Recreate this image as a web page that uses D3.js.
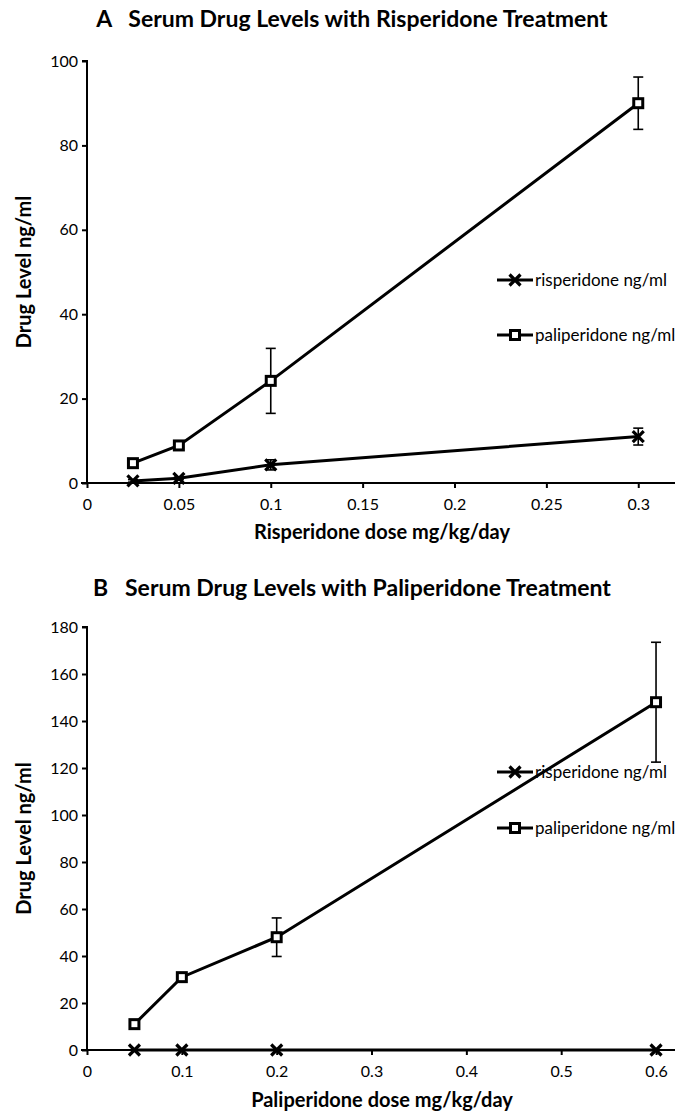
<!DOCTYPE html>
<html>
<head>
<meta charset="utf-8">
<script src="https://cdn.jsdelivr.net/npm/d3@7"></script>
<style>
  body { margin: 0; background: #fff; }
  svg { display: block; font-family: Lato, "Open Sans", sans-serif; }
</style>
</head>
<body>
<svg id="chart" width="691" height="1114"></svg>
<script>
// Panel A: risperidone treatment
const doseA = [0.025, 0.05, 0.1, 0.3];
const risA = [0.5, 1.1, 4.3, 11];
const risErrA = [0.3, 0.3, 1.2, 2];
const paliA = [4.7, 8.9, 24.2, 90];
const paliErrA = [0.4, 0.6, 7.7, 6.2];
const xTicksA = [0, 0.05, 0.1, 0.15, 0.2, 0.25, 0.3];
const yTicksA = [0, 20, 40, 60, 80, 100];

// Panel B: paliperidone treatment
const doseB = [0.05, 0.1, 0.2, 0.6];
const risB = [0, 0, 0, 0];
const risErrB = [0, 0, 0, 0];
const paliB = [11, 31, 48, 148];
const paliErrB = [1.2, 1.5, 8.2, 25.5];
const xTicksB = [0, 0.1, 0.2, 0.3, 0.4, 0.5, 0.6];
const yTicksB = [0, 20, 40, 60, 80, 100, 120, 140, 160, 180];

const seriesNames = ["risperidone ng/ml", "paliperidone ng/ml"];

const svg = d3.select("#chart");

function drawPanel(cfg) {
  const g = svg.append("g");
  const x = d3.scaleLinear().domain(cfg.xDomain).range([87, 675]);
  const y = d3.scaleLinear().domain(cfg.yDomain).range([cfg.bottom, cfg.top]);

  // title
  g.append("text")
    .attr("x", 352).attr("y", cfg.titleY)
    .attr("text-anchor", "middle")
    .style("font-size", "23px").style("font-weight", "bold")
    .attr("xml:space", "preserve")
    .text(cfg.title);

  // axes
  const yAxis = g.append("g")
    .attr("transform", `translate(${x(0)},0)`)
    .call(d3.axisLeft(y).tickValues(cfg.yTicks).tickSize(5).tickPadding(4).tickFormat(d3.format("d")));
  const xAxis = g.append("g")
    .attr("transform", `translate(0,${y(0)})`)
    .call(d3.axisBottom(x).tickValues(cfg.xTicks).tickSize(5).tickPadding(11).tickFormat(d => d === 0 ? "0" : String(d)));
  [yAxis, xAxis].forEach(a => {
    a.select(".domain").attr("stroke-width", 2);
    a.selectAll(".tick line").attr("stroke-width", 2);
    a.selectAll("text").style("font-size", "16px").style("font-family", "Lato, sans-serif").attr("fill", "#000");
  });
  // x-axis line starts a little left of the y-axis, like the original
  xAxis.select(".domain").attr("d", `M${x(0) - 6},0H${x.range()[1]}`);
  yAxis.select(".domain").attr("d", `M-5,${cfg.top}H0V${cfg.bottom}`);

  // axis titles
  g.append("text")
    .attr("x", 382).attr("y", cfg.xTitleY)
    .attr("text-anchor", "middle")
    .style("font-size", "20px").style("font-weight", "bold")
    .text(cfg.xTitle);
  g.append("text")
    .attr("transform", `translate(31,${(cfg.top + cfg.bottom) / 2}) rotate(-90)`)
    .attr("text-anchor", "middle")
    .style("font-size", "20px").style("font-weight", "bold")
    .text("Drug Level ng/ml");

  const line = d3.line().x(d => x(d.dose)).y(d => y(d.v));

  const series = [
    { name: seriesNames[0], vals: cfg.ris, errs: cfg.risErr, marker: "x" },
    { name: seriesNames[1], vals: cfg.pali, errs: cfg.paliErr, marker: "sq" }
  ];

  series.forEach(s => {
    const pts = cfg.dose.map((d, i) => ({ dose: d, v: s.vals[i], e: s.errs[i] }));
    g.append("path").datum(pts)
      .attr("d", line).attr("fill", "none")
      .attr("stroke", "#000").attr("stroke-width", 3);

    // error bars
    pts.filter(p => p.e > 0).forEach(p => {
      const eg = g.append("g").attr("stroke", "#000").attr("stroke-width", 1.6);
      eg.append("line").attr("x1", x(p.dose)).attr("x2", x(p.dose))
        .attr("y1", y(p.v - p.e)).attr("y2", y(p.v + p.e));
      [p.v - p.e, p.v + p.e].forEach(v => {
        eg.append("line").attr("x1", x(p.dose) - 5).attr("x2", x(p.dose) + 5)
          .attr("y1", y(v)).attr("y2", y(v));
      });
    });

    pts.forEach(p => drawMarker(g, s.marker, x(p.dose), y(p.v)));
  });

  // legend (no fill, as in the original)
  series.forEach((s, i) => {
    const ly = cfg.legendY + i * cfg.legendGap;
    g.append("line").attr("x1", 497).attr("x2", 533).attr("y1", ly).attr("y2", ly)
      .attr("stroke", "#000").attr("stroke-width", 3);
    drawMarker(g, s.marker, 515, ly);
    g.append("text").attr("x", 535).attr("y", ly + 6)
      .style("font-size", "17px").text(s.name);
  });
}

function drawMarker(g, type, cx, cy) {
  if (type === "x") {
    g.append("path")
      .attr("d", `M${cx - 5.5},${cy - 5.5}L${cx + 5.5},${cy + 5.5}M${cx - 5.5},${cy + 5.5}L${cx + 5.5},${cy - 5.5}`)
      .attr("stroke", "#000").attr("stroke-width", 3.2);
  } else {
    g.append("rect")
      .attr("x", cx - 4.5).attr("y", cy - 4.5).attr("width", 9).attr("height", 9)
      .attr("fill", "#fff").attr("stroke", "#000").attr("stroke-width", 3);
  }
}

drawPanel({
  title: "A   Serum Drug Levels with Risperidone Treatment",
  titleY: 27,
  xTitle: "Risperidone dose mg/kg/day",
  xTitleY: 539,
  xDomain: [0, 0.32], yDomain: [0, 100],
  top: 61, bottom: 483,
  xTicks: xTicksA, yTicks: yTicksA,
  dose: doseA, ris: risA, risErr: risErrA, pali: paliA, paliErr: paliErrA,
  legendY: 280, legendGap: 55
});

drawPanel({
  title: "B   Serum Drug Levels with Paliperidone Treatment",
  titleY: 596,
  xTitle: "Paliperidone dose mg/kg/day",
  xTitleY: 1107,
  xDomain: [0, 0.62], yDomain: [0, 180],
  top: 627, bottom: 1050,
  xTicks: xTicksB, yTicks: yTicksB,
  dose: doseB, ris: risB, risErr: risErrB, pali: paliB, paliErr: paliErrB,
  legendY: 772, legendGap: 56
});
</script>
</body>
</html>
